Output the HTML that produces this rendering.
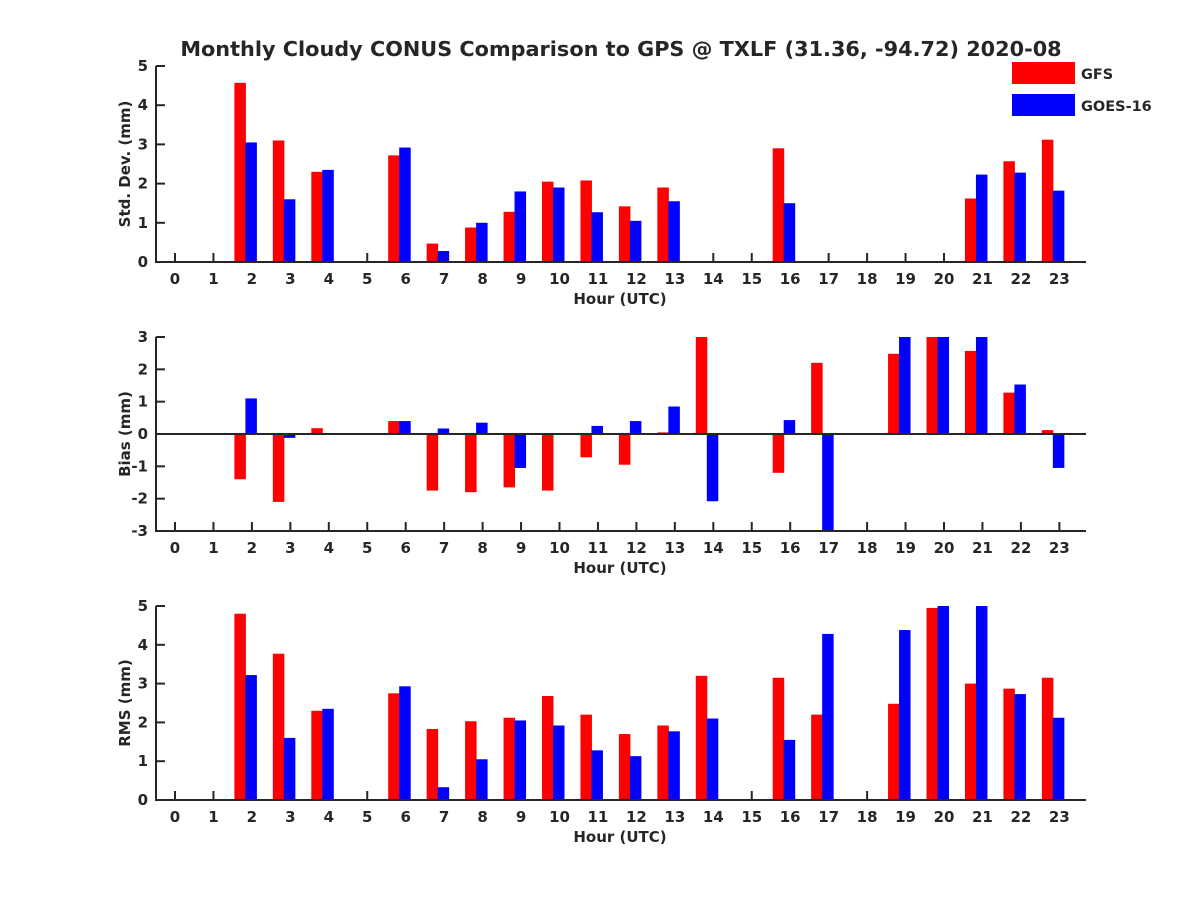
<!DOCTYPE html>
<html><head><meta charset="utf-8"><style>
body{margin:0;background:#fff}
svg text{font-family:"DejaVu Sans","Liberation Sans",sans-serif;font-weight:bold;fill:#262626}
</style></head><body>
<svg id="c" width="1200" height="900" viewBox="0 0 1200 900" xmlns="http://www.w3.org/2000/svg">
<rect width="1200" height="900" fill="#fff"/>
<text x="621" y="56" text-anchor="middle" font-size="20.8">Monthly Cloudy CONUS Comparison to GPS @ TXLF (31.36, -94.72) 2020-08</text>
<rect x="1012" y="62" width="63" height="22" fill="#f00"/>
<text x="1081" y="79" font-size="14.5">GFS</text>
<rect x="1012" y="94" width="63" height="22" fill="#00f"/>
<text x="1081" y="111" font-size="14.5">GOES-16</text>
</svg>
<script>
const hours=[0,1,2,3,4,5,6,7,8,9,10,11,12,13,14,15,16,17,18,19,20,21,22,23];
const stdGFS=[null,null,4.57,3.1,2.3,null,2.72,0.47,0.88,1.28,2.05,2.08,1.42,1.9,null,null,2.9,null,null,null,null,1.62,2.57,3.12];
const stdGOES=[null,null,3.05,1.6,2.35,null,2.92,0.28,1.0,1.8,1.9,1.27,1.05,1.55,null,null,1.5,null,null,null,null,2.23,2.28,1.82];
const biasGFS=[null,null,-1.4,-2.1,0.18,null,0.4,-1.75,-1.8,-1.65,-1.75,-0.72,-0.95,0.05,3,null,-1.2,2.2,null,2.48,3,2.57,1.28,0.12];
const biasGOES=[null,null,1.1,-0.12,null,null,0.4,0.17,0.35,-1.05,null,0.25,0.4,0.85,-2.08,null,0.43,-3,null,3,3,3,1.53,-1.05];
const rmsGFS=[null,null,4.8,3.77,2.3,null,2.75,1.83,2.03,2.12,2.68,2.2,1.7,1.92,3.2,null,3.15,2.2,null,2.48,4.95,3.0,2.87,3.15];
const rmsGOES=[null,null,3.22,1.6,2.35,null,2.93,0.33,1.05,2.05,1.92,1.28,1.13,1.77,2.1,null,1.55,4.28,null,4.38,5.0,5.0,2.73,2.12];
const stdTicks=[0,1,2,3,4,5], biasTicks=[-3,-2,-1,0,1,2,3], rmsTicks=[0,1,2,3,4,5];
const NS="http://www.w3.org/2000/svg", svg=document.getElementById('c');
const X0=156,X1=1086;
const xs=h=>175+38.45*h;
function mk(t,a){const e=document.createElementNS(NS,t);for(const k in a)e.setAttribute(k,a[k]);svg.appendChild(e);return e;}
function panel(key,top,bot,ymin,ymax,ticks,g,b,ylabel){
  const ys=v=>bot-(v-ymin)/(ymax-ymin)*(bot-top);
  const cl=v=>Math.max(ymin,Math.min(ymax,v));
  const z=ys(Math.max(ymin,0));
  hours.forEach(h=>{const x=xs(h);
    mk('line',{x1:x,x2:x,y1:bot,y2:bot-9,stroke:'#262626','stroke-width':2});});
  hours.forEach((h,i)=>{
    [[g[i],-17.5,'#f00','gfs'],[b[i],-6.5,'#00f','goes']].forEach(([v,off,col,s])=>{
      if(v===null)return;
      const y=ys(cl(v));
      const r=mk('rect',{x:xs(h)+off,y:Math.min(y,z),width:11.5,height:Math.abs(z-y),fill:col});
      
      
    });
  });
  const ax=mk('path',{d:`M${X0},${top}V${bot}H${X1}`,stroke:'#262626','stroke-width':2,fill:'none'});
  
  
  if(ymin<0){const zl=mk('line',{x1:X0,x2:X1,y1:z,y2:z,stroke:'#262626','stroke-width':2});
    
    }
  ticks.forEach(t=>{const y=ys(t);
    mk('line',{x1:X0,x2:X0+9,y1:y,y2:y,stroke:'#262626','stroke-width':2});
    const tx=mk('text',{x:148,y:y+5,'text-anchor':'end','font-size':15});tx.textContent=t;
    
    });
  hours.forEach(h=>{const x=xs(h);
    const tx=mk('text',{x:x,y:bot+22,'text-anchor':'middle','font-size':15});tx.textContent=h;
    
    });
  const xl=mk('text',{x:620,y:bot+42,'text-anchor':'middle','font-size':15});xl.textContent='Hour (UTC)';
  
  
  const yc=(top+bot)/2;
  const yl=mk('text',{x:130,y:yc,'text-anchor':'middle','font-size':15,transform:`rotate(-90 130 ${yc})`});yl.textContent=ylabel;
  
  
}
panel('std',66,262,0,5,stdTicks,stdGFS,stdGOES,'Std. Dev. (mm)');
panel('bias',337,531,-3,3,biasTicks,biasGFS,biasGOES,'Bias (mm)');
panel('rms',606,800,0,5,rmsTicks,rmsGFS,rmsGOES,'RMS (mm)');
</script>
</body></html>
